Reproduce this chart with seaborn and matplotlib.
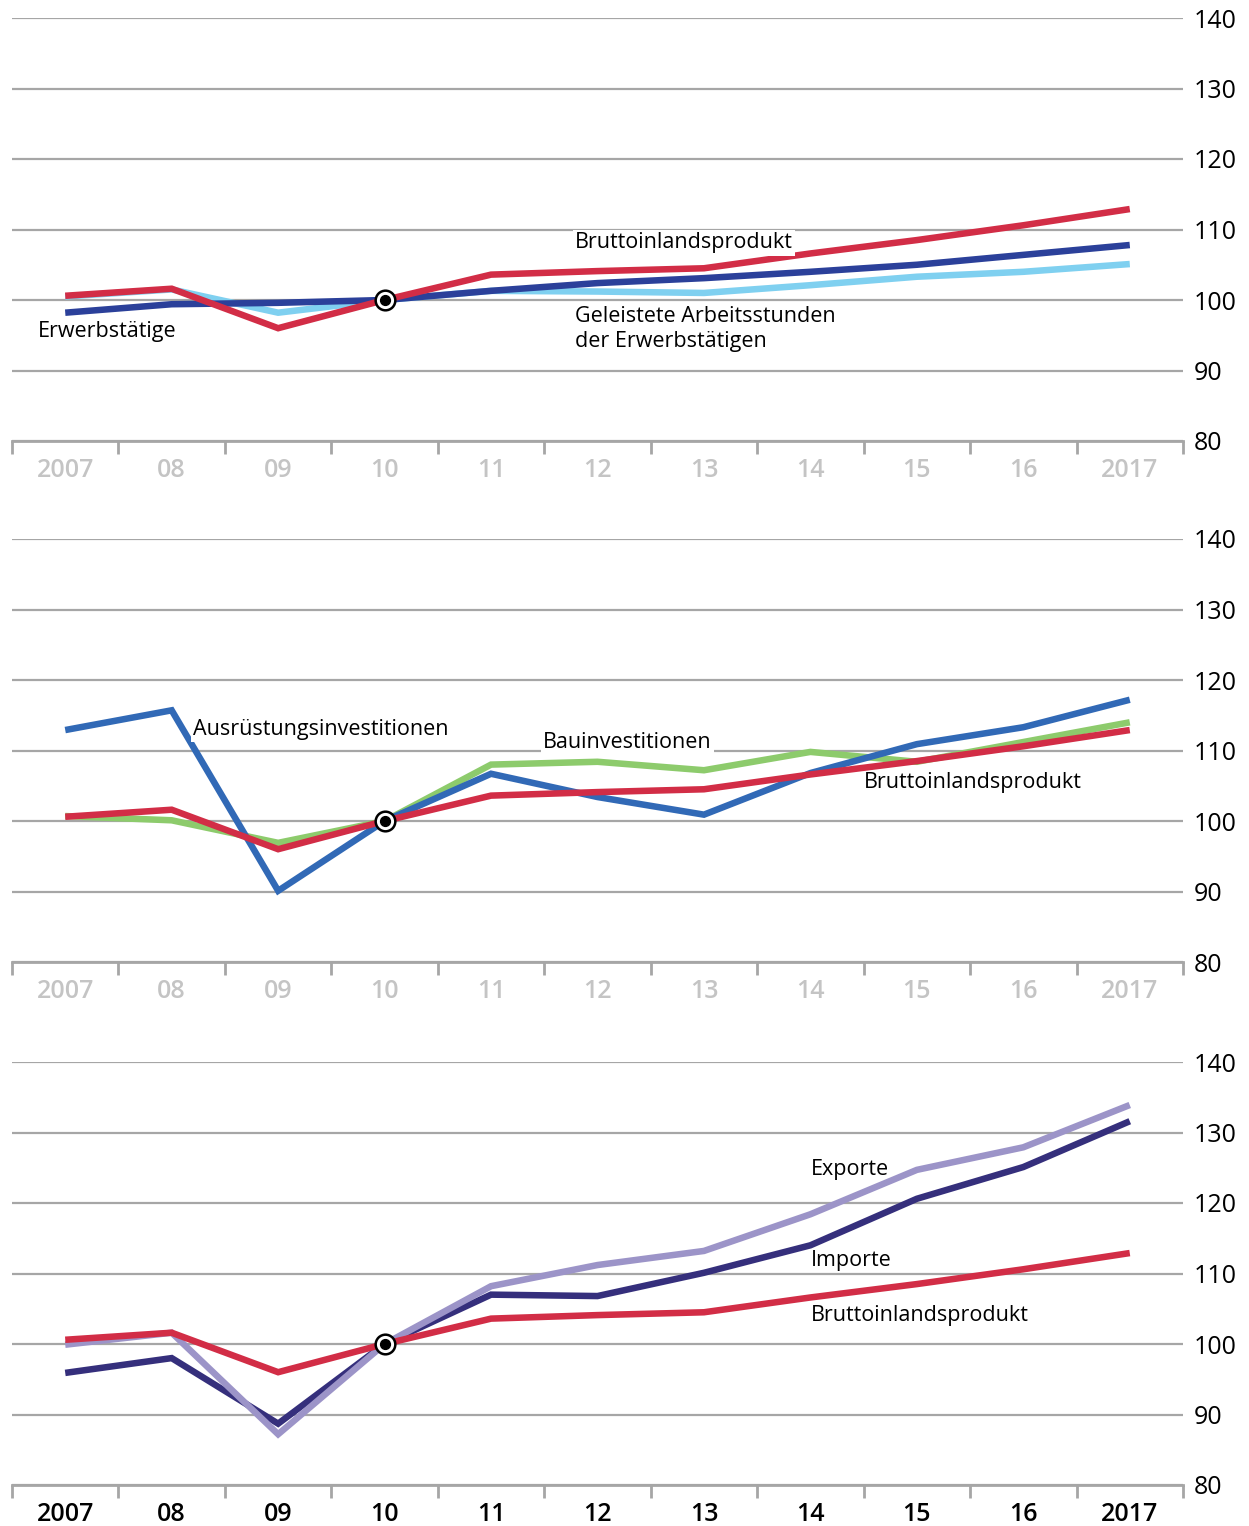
import numpy as np
import pandas as pd
import matplotlib
matplotlib.use("Agg")
import matplotlib.pyplot as plt
from matplotlib.ticker import FixedLocator
import seaborn as sns

# data (index 2010 = 100)
years = list(range(2007, 2018))
year_labels = ["2007", "08", "09", "10", "11", "12", "13", "14", "15", "16", "2017"]

bip = [100.6, 101.6, 96.0, 100.0, 103.6, 104.1, 104.5, 106.6, 108.5, 110.6, 112.9]
erwerbstaetige = [98.2, 99.4, 99.6, 100.0, 101.3, 102.4, 103.1, 104.0, 105.0, 106.4, 107.8]
arbeitsstunden = [100.5, 101.5, 98.2, 100.0, 101.3, 101.2, 101.0, 102.1, 103.3, 104.0, 105.1]

ausruestung = [112.9, 115.7, 90.1, 100.0, 106.7, 103.4, 100.9, 106.8, 110.9, 113.3, 117.2]
bau = [100.7, 100.1, 96.9, 100.0, 108.0, 108.4, 107.2, 109.8, 108.4, 111.2, 114.0]

exporte = [99.9, 101.6, 87.2, 100.0, 108.2, 111.2, 113.2, 118.4, 124.7, 127.9, 133.9]
importe = [95.9, 98.0, 88.7, 100.0, 107.0, 106.8, 110.1, 114.0, 120.6, 125.1, 131.6]

RED = "#d22d46"
GRID = "#a6a6a6"

sns.set_style("white")
plt.rcParams["font.family"] = ["Open Sans", "DejaVu Sans"]

fig = plt.figure(figsize=(12.49, 15.26), dpi=100)
H = 1526.0
W = 1249.0
left = 12 / W
width = (1183 - 12) / W
tops = [18, 539, 1062]
ph = 423

panels = [
    [(arbeitsstunden, "#7fd0f0"), (erwerbstaetige, "#2b409a"), (bip, RED)],
    [(bau, "#8dcb6c"), (ausruestung, "#3169b6"), (bip, RED)],
    [(importe, "#352f7c"), (exporte, "#9c94c8"), (bip, RED)],
]

labels = [
    [("Erwerbstätige", 2006.74, 95.6, False),
     ("Bruttoinlandsprodukt", 2011.79, 108.1, True),
     ("Geleistete Arbeitsstunden\nder Erwerbstätigen", 2011.79, 95.9, False)],
    [("Ausrüstungsinvestitionen", 2008.2, 113.0, True),
     ("Bauinvestitionen", 2011.49, 111.1, True),
     ("Bruttoinlandsprodukt", 2014.5, 105.4, False)],
    [("Exporte", 2014.0, 124.8, False),
     ("Importe", 2014.0, 111.9, False),
     ("Bruttoinlandsprodukt", 2014.0, 104.0, False)],
]

for i, top in enumerate(tops):
    ax = fig.add_axes([left, 1 - (top + ph) / H, width, ph / H])
    for vals, col in panels[i]:
        df = pd.DataFrame({"year": years, "value": vals})
        sns.lineplot(data=df, x="year", y="value", color=col, linewidth=4.7,
                     ax=ax, solid_joinstyle="miter", solid_capstyle="butt")
    # base point 2010 = 100
    ax.scatter([2010], [100], s=200, facecolor="white", edgecolor="black",
               linewidth=1.8, zorder=10)
    ax.scatter([2010], [100], s=50, color="black", zorder=11)

    for txt, x, y, box in labels[i]:
        kw = {}
        if box:
            kw["bbox"] = dict(facecolor="white", edgecolor="none", pad=1.5)
        ax.text(x, y, txt, fontsize=15.5, ha="left", va="center",
                color="black", linespacing=1.3, zorder=5, **kw)

    ax.set_xlim(2006.5, 2017.5)
    ax.set_ylim(80, 140)
    ax.set_xlabel("")
    ax.set_ylabel("")
    ax.yaxis.tick_right()
    ax.set_yticks(range(80, 141, 10))
    ax.tick_params(axis="y", length=0, pad=8, labelsize=18, labelcolor="black")
    ax.grid(axis="y", color=GRID, linewidth=1.6)
    ax.grid(axis="x", visible=False)
    for s in ["left", "right", "top"]:
        ax.spines[s].set_visible(False)
    ax.spines["bottom"].set_color(GRID)
    ax.spines["bottom"].set_linewidth(2)

    ax.set_xticks(years)
    ax.set_xticklabels(year_labels)
    ax.xaxis.set_minor_locator(FixedLocator(np.arange(2006.5, 2018, 1)))
    ax.tick_params(axis="x", which="major", length=0, pad=12, labelsize=18)
    ax.tick_params(axis="x", which="minor", bottom=True, length=9, width=2,
                   color=GRID, direction="out")
    lab_col = "black" if i == 2 else "#c4c4c4"
    for t in ax.get_xticklabels():
        t.set_color(lab_col)
        t.set_fontweight("semibold")

fig.savefig("out.png", dpi=100)
